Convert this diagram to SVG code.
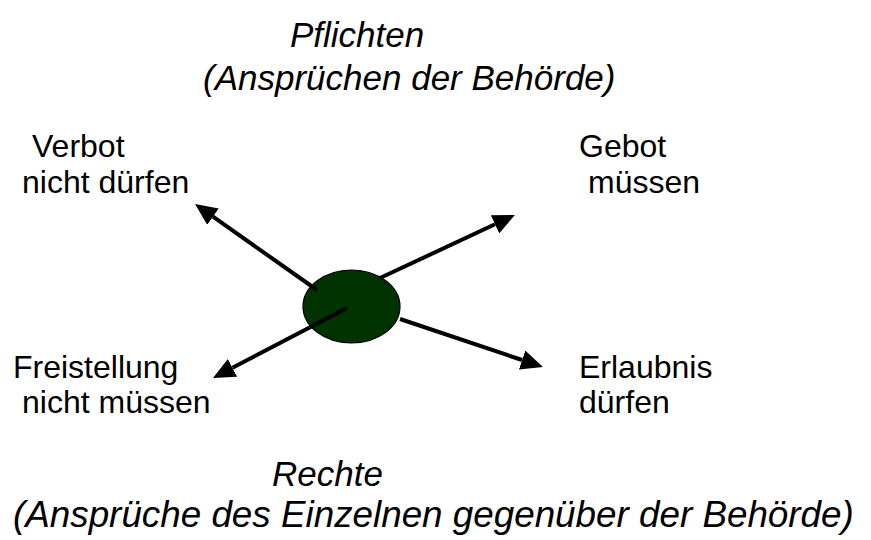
<svg xmlns="http://www.w3.org/2000/svg" width="871" height="540" viewBox="0 0 871 540">
  <style>
    .lbl { font-family: "Liberation Sans", Arial, sans-serif; font-size: 32px; fill: #000; }
    .ttl { font-family: "Liberation Sans", Arial, sans-serif; font-size: 35px; font-style: italic; fill: #000; }
    .arrow { stroke: #000; stroke-width: 4; fill: none; marker-end: url(#head); }
  </style>
  <defs>
    <marker id="head" viewBox="0 0 22 20" refX="0" refY="10" markerWidth="22" markerHeight="20" markerUnits="userSpaceOnUse" orient="auto">
      <path d="M0,0 L22,10 L0,20 z" fill="#000"/>
    </marker>
  </defs>
  <rect width="871" height="540" fill="#fff"/>

  <g id="title-top">
    <text class="ttl" x="290" y="47">Pflichten</text>
    <text class="ttl" x="203" y="90">(Ansprüchen der Behörde)</text>
  </g>

  <g id="center">
    <ellipse cx="351.5" cy="306.5" rx="48.5" ry="36.5" fill="#003300" stroke="#000" stroke-width="1.2"/>
  </g>

  <g id="connectors">
    <line class="arrow" x1="317" y1="290" x2="213" y2="216.7"/>
    <line class="arrow" x1="380" y1="278" x2="495" y2="224.3"/>
    <line class="arrow" x1="347" y1="308" x2="232.5" y2="367.8"/>
    <line class="arrow" x1="400" y1="319" x2="522.1" y2="360"/>
  </g>

  <g id="verbot">
    <text class="lbl" x="32" y="157">Verbot</text>
    <text class="lbl" x="22" y="193">nicht dürfen</text>
  </g>
  <g id="gebot">
    <text class="lbl" x="579" y="157">Gebot</text>
    <text class="lbl" x="588" y="193">müssen</text>
  </g>
  <g id="freistellung">
    <text class="lbl" x="13" y="378">Freistellung</text>
    <text class="lbl" x="22" y="413">nicht müssen</text>
  </g>
  <g id="erlaubnis">
    <text class="lbl" x="579" y="378">Erlaubnis</text>
    <text class="lbl" x="579" y="413">dürfen</text>
  </g>

  <g id="title-bottom">
    <text class="ttl" x="272" y="486">Rechte</text>
    <text class="ttl" x="13" y="527" style="font-size:36.8px">(Ansprüche des Einzelnen gegenüber der Behörde)</text>
  </g>
</svg>
